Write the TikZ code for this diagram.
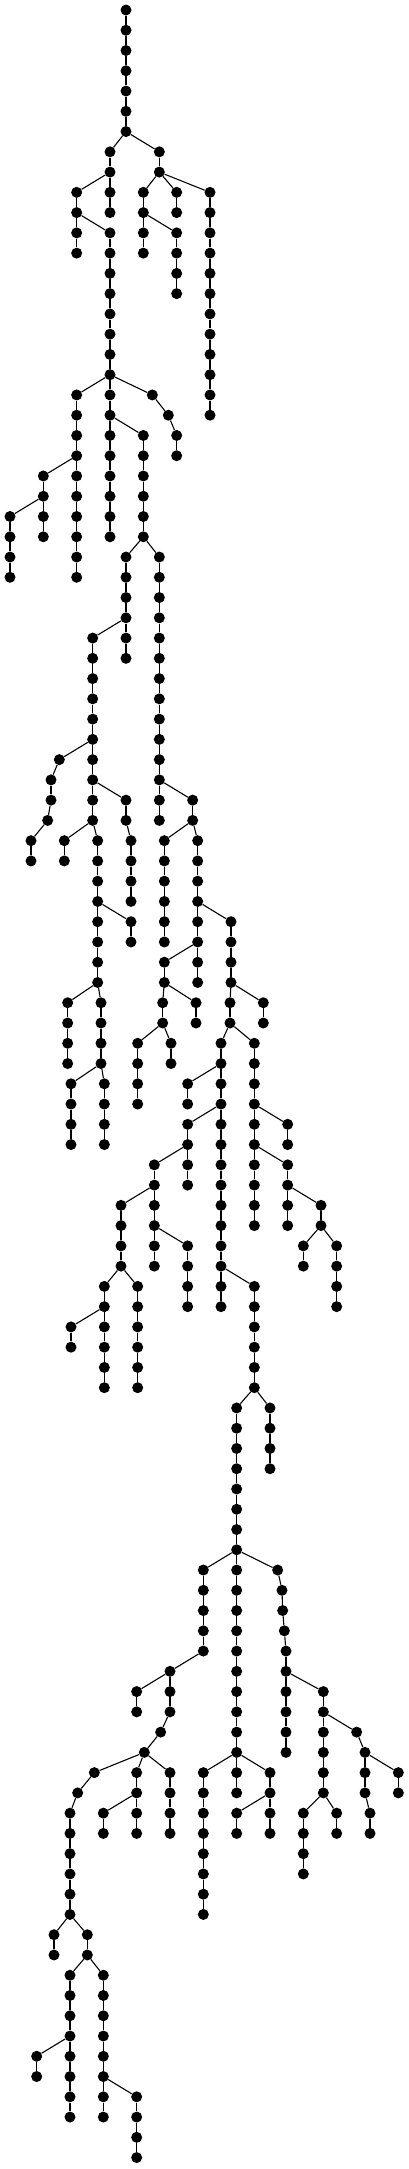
\documentclass[tikz,border=0pt]{standalone}
\tikzset{
  dot/.style={circle, fill=black, draw=none, inner sep=0pt, minimum size=11pt},
  edge/.style={line width=1.1pt, draw=black}
}
% node at zoom-x #1 (3x pixel units) and level #2
\newcommand\NodeAt[2]{\node[dot] (n#1y#2) at ({#1/3},{10+20.26*#2}) {};}
% vertical run of nodes at x=#1 from level #2 to #3, joined
\newcommand\VRun[3]{%
  \foreach \k in {#2,...,#3}{\NodeAt{#1}{\k}}%
  \foreach \k [evaluate=\k as \p using int(\k-1)] in {#2,...,#3}{%
    \ifnum\k>#2\relax \draw[edge] (n#1y\p) -- (n#1y\k);\fi}%
}
% edge between two named nodes
\newcommand\EdgeTo[4]{\draw[edge] (n#1y#2) -- (n#3y#4);}
\begin{document}
\begin{tikzpicture}[x=1pt,y=-1pt]
\useasboundingbox (0,0) rectangle (408,2169);
\VRun{378}{0}{6}
\VRun{330}{7}{10}
\VRun{230}{9}{12}
\VRun{330}{11}{26}
\VRun{457}{19}{19}
\VRun{505}{20}{20}
\VRun{530}{21}{22}
\VRun{430}{21}{26}
\VRun{230}{19}{28}
\VRun{130}{23}{26}
\VRun{30}{25}{28}
\VRun{478}{7}{8}
\VRun{430}{9}{12}
\VRun{530}{9}{10}
\VRun{530}{11}{14}
\VRun{630}{9}{20}
\VRun{378}{27}{32}
\VRun{278}{31}{40}
\VRun{478}{27}{40}
\VRun{178}{37}{37}
\VRun{153}{38}{39}
\VRun{143}{40}{40}
\VRun{93}{41}{42}
\VRun{193}{41}{42}
\VRun{293}{41}{48}
\VRun{378}{39}{40}
\VRun{393}{41}{44}
\VRun{393}{45}{46}
\VRun{203}{49}{52}
\VRun{303}{49}{52}
\VRun{213}{53}{56}
\VRun{313}{53}{56}
\VRun{578}{39}{40}
\VRun{493}{41}{46}
\VRun{593}{41}{48}
\VRun{493}{47}{48}
\VRun{488}{49}{50}
\VRun{588}{49}{50}
\VRun{413}{51}{54}
\VRun{513}{51}{52}
\VRun{693}{45}{48}
\VRun{690}{49}{50}
\VRun{790}{49}{50}
\VRun{663}{51}{64}
\VRun{763}{51}{60}
\VRun{563}{53}{54}
\VRun{563}{55}{58}
\VRun{463}{57}{62}
\VRun{363}{59}{62}
\VRun{563}{61}{64}
\VRun{313}{63}{68}
\VRun{213}{65}{66}
\VRun{413}{63}{68}
\VRun{763}{63}{68}
\VRun{863}{55}{56}
\VRun{863}{57}{60}
\VRun{963}{59}{60}
\VRun{910}{61}{62}
\VRun{1010}{61}{64}
\VRun{710}{69}{88}
\VRun{810}{69}{72}
\VRun{610}{77}{81}
\VRun{833}{77}{77}
\VRun{846}{78}{78}
\VRun{848}{79}{79}
\VRun{853}{80}{80}
\VRun{858}{81}{86}
\VRun{510}{82}{84}
\VRun{410}{83}{84}
\VRun{482}{85}{85}
\VRun{433}{86}{86}
\VRun{283}{87}{87}
\VRun{233}{88}{88}
\VRun{210}{89}{94}
\VRun{210}{97}{104}
\VRun{410}{87}{90}
\VRun{310}{89}{90}
\VRun{510}{87}{90}
\VRun{162}{95}{96}
\VRun{262}{95}{96}
\VRun{110}{101}{102}
\VRun{310}{97}{104}
\VRun{410}{103}{106}
\VRun{610}{87}{94}
\VRun{810}{87}{90}
\VRun{710}{89}{90}
\VRun{970}{83}{88}
\VRun{1070}{85}{85}
\VRun{1095}{86}{88}
\VRun{1195}{87}{88}
\VRun{1110}{89}{90}
\VRun{910}{89}{92}
\VRun{1010}{89}{90}
% cross edges
\EdgeTo{378}{6}{330}{7}
\EdgeTo{378}{6}{478}{7}
\EdgeTo{330}{8}{230}{9}
\EdgeTo{230}{10}{330}{11}
\EdgeTo{330}{18}{230}{19}
\EdgeTo{330}{18}{457}{19}
\EdgeTo{457}{19}{505}{20}
\EdgeTo{505}{20}{530}{21}
\EdgeTo{330}{20}{430}{21}
\EdgeTo{230}{22}{130}{23}
\EdgeTo{130}{24}{30}{25}
\EdgeTo{478}{8}{430}{9}
\EdgeTo{478}{8}{530}{9}
\EdgeTo{478}{8}{630}{9}
\EdgeTo{430}{10}{530}{11}
\EdgeTo{430}{26}{378}{27}
\EdgeTo{430}{26}{478}{27}
\EdgeTo{378}{30}{278}{31}
\EdgeTo{278}{36}{178}{37}
\EdgeTo{178}{37}{153}{38}
\EdgeTo{153}{39}{143}{40}
\EdgeTo{143}{40}{93}{41}
\EdgeTo{278}{40}{193}{41}
\EdgeTo{278}{40}{293}{41}
\EdgeTo{278}{38}{378}{39}
\EdgeTo{378}{40}{393}{41}
\EdgeTo{293}{44}{393}{45}
\EdgeTo{293}{48}{203}{49}
\EdgeTo{293}{48}{303}{49}
\EdgeTo{303}{52}{213}{53}
\EdgeTo{303}{52}{313}{53}
\EdgeTo{478}{38}{578}{39}
\EdgeTo{578}{40}{493}{41}
\EdgeTo{578}{40}{593}{41}
\EdgeTo{593}{46}{493}{47}
\EdgeTo{593}{44}{693}{45}
\EdgeTo{493}{48}{488}{49}
\EdgeTo{493}{48}{588}{49}
\EdgeTo{488}{50}{413}{51}
\EdgeTo{488}{50}{513}{51}
\EdgeTo{693}{48}{690}{49}
\EdgeTo{693}{48}{790}{49}
\EdgeTo{690}{50}{663}{51}
\EdgeTo{690}{50}{763}{51}
\EdgeTo{663}{52}{563}{53}
\EdgeTo{663}{54}{563}{55}
\EdgeTo{563}{56}{463}{57}
\EdgeTo{463}{58}{363}{59}
\EdgeTo{463}{60}{563}{61}
\EdgeTo{363}{62}{313}{63}
\EdgeTo{313}{64}{213}{65}
\EdgeTo{363}{62}{413}{63}
\EdgeTo{663}{62}{763}{63}
\EdgeTo{763}{54}{863}{55}
\EdgeTo{763}{56}{863}{57}
\EdgeTo{863}{58}{963}{59}
\EdgeTo{963}{60}{910}{61}
\EdgeTo{963}{60}{1010}{61}
\EdgeTo{763}{68}{710}{69}
\EdgeTo{763}{68}{810}{69}
\EdgeTo{710}{76}{610}{77}
\EdgeTo{710}{76}{833}{77}
\EdgeTo{833}{77}{846}{78}
\EdgeTo{846}{78}{848}{79}
\EdgeTo{848}{79}{853}{80}
\EdgeTo{853}{80}{858}{81}
\EdgeTo{610}{81}{510}{82}
\EdgeTo{510}{82}{410}{83}
\EdgeTo{510}{84}{482}{85}
\EdgeTo{482}{85}{433}{86}
\EdgeTo{433}{86}{283}{87}
\EdgeTo{433}{86}{410}{87}
\EdgeTo{433}{86}{510}{87}
\EdgeTo{283}{87}{233}{88}
\EdgeTo{233}{88}{210}{89}
\EdgeTo{410}{88}{310}{89}
\EdgeTo{210}{94}{162}{95}
\EdgeTo{210}{94}{262}{95}
\EdgeTo{262}{96}{210}{97}
\EdgeTo{262}{96}{310}{97}
\EdgeTo{210}{100}{110}{101}
\EdgeTo{310}{102}{410}{103}
\EdgeTo{710}{86}{610}{87}
\EdgeTo{710}{86}{810}{87}
\EdgeTo{810}{88}{710}{89}
\EdgeTo{858}{82}{970}{83}
\EdgeTo{970}{84}{1070}{85}
\EdgeTo{1070}{85}{1095}{86}
\EdgeTo{1095}{86}{1195}{87}
\EdgeTo{1095}{88}{1110}{89}
\EdgeTo{970}{88}{910}{89}
\EdgeTo{970}{88}{1010}{89}
\end{tikzpicture}
\end{document}
